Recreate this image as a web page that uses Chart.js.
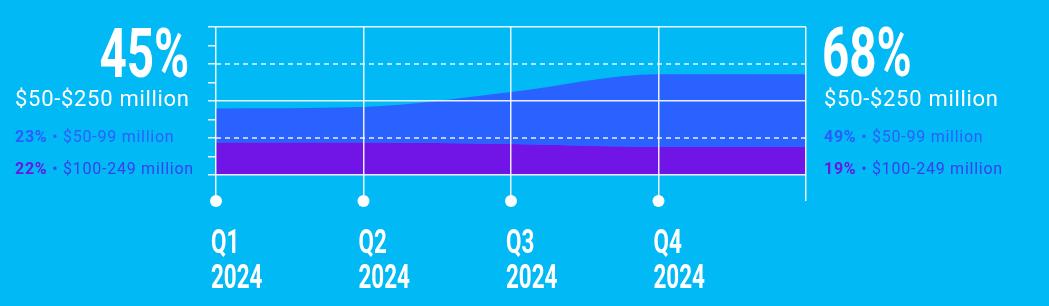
<!DOCTYPE html>
<html><head><meta charset="utf-8">
<script src="https://cdn.jsdelivr.net/npm/chart.js@4.4.1/dist/chart.umd.min.js"></script>
<style>
html,body{margin:0;padding:0;background:#00b9f5;width:1049px;height:306px;overflow:hidden;font-family:Roboto,"Noto Sans",sans-serif;}
#wrap{position:relative;width:1049px;height:306px;}
canvas{position:absolute;left:0;top:0;}
.t{position:absolute;white-space:nowrap;line-height:1;}
.big{font-weight:700;font-size:68px;color:#fff;}
.big span{display:inline-block;transform:scaleX(0.7);}
.mid{font-size:22px;color:#fff;letter-spacing:0.7px;}
.sm{font-size:16px;letter-spacing:0.75px;}
.sm b{font-weight:700;}
</style></head>
<body><div id="wrap"><canvas id="c" width="1049" height="306"></canvas></div>
<script>
// ---- data ----
const categories = ['Q1 2024', 'Q2 2024', 'Q3 2024', 'Q4 2024', ''];
const seriesNames = ['$100-249 million', '$50-99 million'];
const series100to249 = [22, 22, 21, 19, 19];
const series50to99 = [23, 24, 35, 49, 49];
const totalLabel = '$50-$250 million';
const dashedValues = [25, 75];
const yMin = 0, yMax = 100, yStep = 12.5;

// ---- colours ----
const colPurple = '#7015e6';
const colBlue = '#2962ff';

// ---- side labels from the data ----
function addBlock(idx, side) {
  const wrap = document.getElementById('wrap');
  const total = series100to249[idx] + series50to99[idx];
  const big = document.createElement('div');
  big.className = 't big';
  if (side === 'left') {
    big.style.cssText = 'left:0;width:189px;text-align:right;top:20px';
    big.innerHTML = '<span style="transform-origin:100% 50%">' + total + '%</span>';
  } else {
    big.style.cssText = 'left:822px;top:19px';
    big.innerHTML = '<span style="transform-origin:0 50%">' + total + '%</span>';
  }
  wrap.appendChild(big);
  const x = side === 'left' ? 15 : 824;
  const mid = document.createElement('div');
  mid.className = 't mid';
  mid.style.cssText = 'left:' + x + 'px;top:88px';
  mid.textContent = totalLabel;
  wrap.appendChild(mid);
  const l1 = document.createElement('div');
  l1.className = 't sm';
  l1.style.cssText = 'left:' + x + 'px;top:129px;color:#2c5ffc';
  l1.innerHTML = '<b style="color:#2a5cff">' + series50to99[idx] + '%</b> \u2022 ' + seriesNames[1];
  wrap.appendChild(l1);
  const l2 = document.createElement('div');
  l2.className = 't sm';
  l2.style.cssText = 'left:' + x + 'px;top:161px;color:#3a40ee';
  l2.innerHTML = '<b style="color:#6a16e4">' + series100to249[idx] + '%</b> \u2022 ' + seriesNames[0];
  wrap.appendChild(l2);
}
addBlock(0, 'left');
addBlock(3, 'right');

const gridWhite = 'rgba(255,255,255,0.9)';

const overlay = {
  id: 'overlay',
  afterDatasetsDraw(chart) {
    const {ctx, chartArea: {left, right}, scales: {y}} = chart;
    ctx.save();
    ctx.strokeStyle = gridWhite;
    ctx.lineWidth = 1.5;
    ctx.setLineDash([5, 4]);
    dashedValues.forEach(v => {
      const py = y.getPixelForValue(v);
      ctx.beginPath(); ctx.moveTo(left, py); ctx.lineTo(right, py); ctx.stroke();
    });
    ctx.restore();
  },
  afterDraw(chart) {
    const {ctx, chartArea, scales: {x}} = chart;
    const tl = x.options.grid.tickLength;
    ctx.save();
    ctx.fillStyle = '#fff';
    categories.forEach((lab, i) => {
      if (!lab) return;
      const px = x.getPixelForTick(i);
      ctx.beginPath(); ctx.arc(px, chartArea.bottom + tl, 6, 0, Math.PI * 2); ctx.fill();
      ctx.font = '700 34px Roboto';
      ctx.textBaseline = 'alphabetic';
      lab.split(' ').forEach((ln, j) => {
        ctx.save();
        ctx.translate(px - 5, chartArea.bottom + 78 + j * 34.5);
        ctx.scale(0.66, 1);
        ctx.fillText(ln, 0, 0);
        ctx.restore();
      });
    });
    ctx.restore();
  }
};

new Chart(document.getElementById('c'), {
  type: 'line',
  data: {
    labels: categories,
    datasets: [
      { label: seriesNames[0], data: series100to249, backgroundColor: colPurple, borderWidth: 0,
        fill: 'origin', pointRadius: 0, cubicInterpolationMode: 'monotone' },
      { label: seriesNames[1], data: series50to99, backgroundColor: colBlue, borderWidth: 0,
        fill: '-1', pointRadius: 0, cubicInterpolationMode: 'monotone' }
    ]
  },
  options: {
    responsive: false,
    devicePixelRatio: 1,
    animation: false,
    layout: { padding: { left: 208, right: 243, top: 27, bottom: 105 } },
    plugins: { legend: { display: false }, tooltip: { enabled: false } },
    scales: {
      x: {
        type: 'category', offset: false,
        grid: { color: gridWhite, tickColor: gridWhite, lineWidth: 1.5, tickWidth: 1.5, tickLength: 26, z: 1 },
        border: { display: false },
        ticks: { display: false },
        afterFit(s) { s.height = 26; }
      },
      y: {
        stacked: true, min: yMin, max: yMax,
        ticks: { display: false, stepSize: yStep },
        grid: {
          color: c => (c.tick && c.tick.value % 50 === 0) ? gridWhite : 'rgba(0,0,0,0)',
          tickColor: gridWhite, lineWidth: 1.5, tickWidth: 1.5, tickLength: 8, z: 1
        },
        border: { display: false },
        afterFit(s) { s.width = 8; }
      }
    }
  },
  plugins: [overlay]
});
</script>
</body></html>
